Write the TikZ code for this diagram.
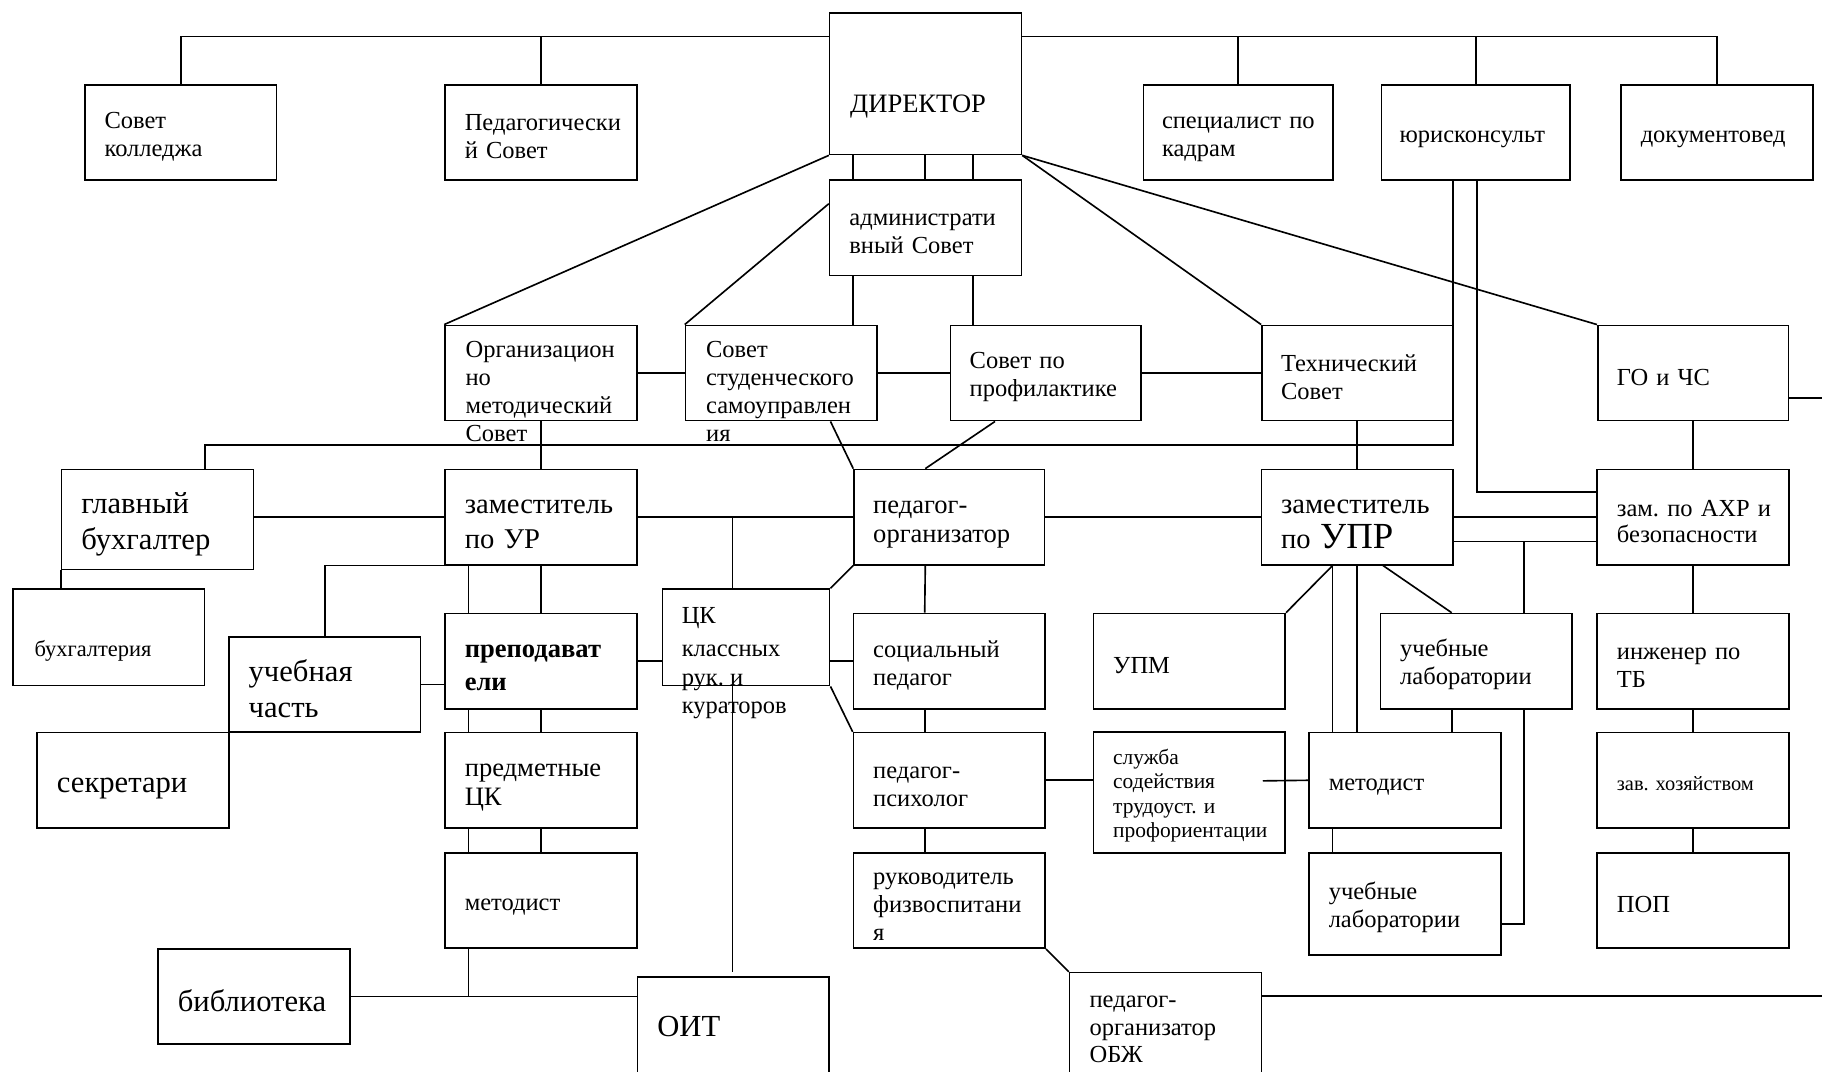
\documentclass[tikz,border=0pt]{standalone}
\usepackage{fontspec}
\setmainfont{Liberation Serif}
\usepackage{tikz}
\usetikzlibrary{calc}
\hyphenpenalty=10000
\exhyphenpenalty=10000
\frenchspacing
\newcommand{\fsA}{\fontsize{12}{13.7}\selectfont}
\newcommand{\fsC}{\fontsize{15}{17.6}\selectfont}
\newcommand{\fsDir}{\fontsize{13}{15}\selectfont}
\newcommand{\fsE}{\fontsize{14}{17}\selectfont}
\newcommand{\fsF}{\fontsize{13}{14.2}\selectfont}
\newcommand{\fsP}{\fontsize{13}{16}\selectfont}
\newcommand{\fsG}{\fontsize{18}{17}\selectfont}
\newcommand{\fsH}{\fontsize{12}{12.6}\selectfont}
\newcommand{\fsI}{\fontsize{11}{13}\selectfont}
\newcommand{\fsJ}{\fontsize{12}{14}\selectfont}
\newcommand{\fsK}{\fontsize{10.5}{12}\selectfont}
\newcommand{\fsL}{\fontsize{10}{12}\selectfont}
\newcommand{\fsM}{\fontsize{12}{13.4}\selectfont}
\tikzset{
  unit/.style={draw, rectangle, inner sep=0pt, minimum width=33mm, minimum height=16.4mm,
    text width=26.2mm, align=left, font=\fsA, execute at begin node={\rule{0pt}{1em}}},
  inscr/.style={anchor=north west, inner sep=0pt, align=left, font=\fsA},
}
\begin{document}
\begin{tikzpicture}[x=0.2mm, y=-0.2mm, line width=0.8pt]
		\useasboundingbox (0,0) rectangle (1568,922);
		\clip (0,0) rectangle (1568,922);
		% top row
		\node[unit] (sovk) at (155.5,114) {Совет\\колледжа};
		\node[unit] (pedS) at (465.5,114) {Педагогически\\й Совет};
		\node[unit, minimum height=24.4mm] (dir) at (796.5,72) {};
		\node[inscr, anchor=base west, font=\fsDir] (dirT) at (731,97) {ДИРЕКТОР};
		\node[unit, minimum width=32.6mm] (kadr) at (1065.5,114) {специалист~по\\кадрам};
		\node[unit, minimum width=32.4mm] (jur) at (1270,114) {юрисконсульт};
		\node[unit] (doc) at (1477.5,114) {документовед};
		\node[unit] (adm) at (796.5,196) {администрати\\вный Совет};
		% councils
		\node[unit] (orgm) at (465.5,321) {};
		\node[inscr] (orgmT) at (400,290) {\strut Организацион\\но\\методический\\Совет};
		\node[unit] (stud) at (672.5,321) {};
		\node[inscr] (studT) at (607,290) {\strut Совет\\студенческого\\самоуправлен\\ия};
		\node[unit, minimum width=32.8mm] (prof) at (900,321) {Совет~по\\профилактике};
		\node[unit, minimum width=32.8mm] (tech) at (1168,321) {Технический\\Совет};
		\node[unit, minimum width=32.8mm] (gochs) at (1457,321) {ГО~и~ЧС};
		% deputies
		\node[unit, minimum height=17.2mm, font=\fsC] (glbuh) at (135.5,447) {главный\\бухгалтер};
		\node[unit, font=\fsE] (zur) at (465.5,445) {заместитель\\по~УР};
		\node[unit, minimum width=32.8mm, font=\fsF] (porg) at (817,445) {педагог-\\организатор};
		\node[unit, font=\fsE] (zupr) at (1168,445) {заместитель\\по~{\fsG УПР}};
		\node[unit, font=\fsH] (zahr) at (1457,445) {зам.~по~АХР~и\\безопасности};
		% lower levels
		\node[unit, minimum height=16.6mm] (buh) at (93.5,548.5) {};
		\node[inscr, anchor=base west, font=\fsI] (buhT) at (29,565) {бухгалтерия};
		\node[unit, font=\fsC] (uch) at (279.5,589) {учебная\\часть};
		\node[unit, font=\fsP\bfseries] (prep) at (465.5,569) {преподават\\ели};
		\node[unit, minimum width=28.8mm, minimum height=16.6mm] (ck) at (642,548.5) {};
		\node[inscr, font=\fsJ] (ckT) at (586,519) {\strut ЦК\\[2pt]классных\\рук.~и\\кураторов};
		\node[unit] (socp) at (817,569) {социальный\\педагог};
		\node[unit] (upm) at (1023.5,569) {УПМ};
		\node[unit] (labA) at (1270.5,569) {учебные\\лаборатории};
		\node[unit] (ingtb) at (1457,569) {инженер~по\\ТБ};
		\node[unit, font=\fsC] (sekr) at (114.5,671.5) {секретари};
		\node[unit, font=\fsF] (pck) at (465.5,671.5) {предметные\\ЦК};
		\node[unit] (psy) at (817,671.5) {педагог-\\психолог};
		\node[unit, minimum height=20.8mm, font=\fsK] (slug) at (1023.5,682) {служба\\содействия\\трудоуст.~и\\профориентации};
		\node[unit] (metR) at (1209,671.5) {методист};
		\node[unit, font=\fsL] (zavh) at (1457,671.5) {зав.~хозяйством};
		\node[unit] (metL) at (465.5,775) {методист};
		\node[unit] (fiz) at (817,775) {руководитель\\физвоспитани\\я};
		\node[unit, minimum height=17.6mm] (labB) at (1209,778) {учебные\\лаборатории};
		\node[unit] (pop) at (1457,775) {ПОП};
		\node[unit, font=\fsC] (bib) at (218.5,857.5) {библиотека};
		\node[unit, minimum height=22mm] (oit) at (631,896) {};
		\node[inscr, anchor=base west, font=\fsC] (oitT) at (565,892) {ОИТ};
		\node[unit, minimum height=22mm] (obzh) at (1003,892) {};
		\node[inscr, font=\fsM] (obzhT) at (937,850) {\strut педагог-\\организатор\\ОБЖ};
		% top bus
		\coordinate (busL) at ($(dir.north west)+(0,21)$);
		\coordinate (busR) at ($(dir.north east)+(0,21)$);
		\draw (sovk.north) |- (busL);
		\draw (pedS.north) -- (pedS.north |- busL);
		\draw (busR) -| (doc.north);
		\foreach \n in {kadr,jur} \draw (\n.north) -- (\n.north |- busR);
		% director and councils
		\foreach \dx in {21,83,124} \draw ($(dir.south west)+(\dx,0)$) -- ($(adm.north west)+(\dx,0)$);
		\draw (dir.south west) -- (orgm.north west);
		\draw ($(adm.north west)+(0,21)$) -- (stud.north west);
		\draw (dir.south east) -- (tech.north west);
		\draw (dir.south east) -- (gochs.north west);
		\draw ($(adm.south west)+(21,0)$) -- ($(stud.north west)+(145,0)$);
		\draw ($(adm.south west)+(124,0)$) -- ($(prof.north west)+(20,0)$);
		\draw (orgm) -- (stud);
		\draw (stud) -- (prof);
		\draw (prof) -- (tech);
		% jurist lines
		\coordinate (jurA) at ($(jur.south west)+(62,0)$);
		\coordinate (jurB) at ($(jur.south west)+(83,0)$);
		\draw (jurA) -- ++(0,227) -| ($(glbuh.north west)+(124,0)$);
		\draw (jurB) |- ($(zahr.north west)+(0,20)$);
		\draw (tech) -- (zupr);
		\draw (gochs) -- (zahr);
		\draw ($(gochs.south east)+(0,-20)$) -- ++(29,0);
		\draw (orgm) -- (zur);
		\draw ($(stud.south east)+(-41,0)$) -- (porg.north west);
		\draw ($(prof.south west)+(39,0)$) -- ($(porg.north west)+(62,0)$);
		% deputies row
		\draw (glbuh.east |- zur.west) -- (zur.west);
		\draw (zur) -- (porg);
		\draw (porg) -- (zupr);
		\draw (zupr) -- (zahr);
		\draw ($(zupr.east)+(0,21)$) -- ($(zahr.west)+(0,21)$);
		\coordinate (ckTop) at ($(ck.north west)+(61,0)$);
		\draw (ckTop) -- (ckTop |- zur.east);
		% practice branch
		\coordinate (labX) at ($(labA.north west)+(124,0)$);
		\draw (labX) -- ++(0,-62);
		\draw (labX |- labA.south) |- ($(labB.east)+(0,17)$);
		\coordinate (uA) at ($(zupr.south west)+(62,0)$);
		\draw (uA) -- (upm.north east);
		\draw (uA) -- (uA |- metR.north);
		\draw (zupr.south) -- (zupr.south |- metR.north);
		\draw ($(zupr.south east)+(-61,0)$) -- ($(labA.north west)+(62,0)$);
		\draw ($(labA.south west)+(62,0)$) coordinate (lB) -- (lB |- metR.north);
		\draw ($(metR.south west)+(21,0)$) coordinate (mB) -- (mB |- labB.north);
		\draw ($(slug.east)+(-20,-10)$) -- (metR.west);
		\foreach \a/\b in {zahr/ingtb, ingtb/zavh, zavh/pop} \draw (\a) -- (\b);
		% teaching branch
		\draw (glbuh.south west) -- (glbuh.south west |- buh.north);
		\draw (zur.south west) -| (uch.north);
		\foreach \a/\b in {zur/prep, prep/pck, pck/metL} {
			\draw ($(\a.south west)+(21,0)$) -- ($(\b.north west)+(21,0)$);
			\draw (\a) -- (\b);
		}
		\draw ($(metL.south west)+(21,0)$) coordinate (mL) -- (mL |- bib.east);
		\draw (bib.east) -- (bib.east -| oit.west);
		\draw (uch.east) -- (uch.east -| prep.west);
		\draw (prep.east) -- (prep.east -| ck.west);
		\draw (socp.west -| ck.east) -- (socp.west);
		\draw (ck.north east) -- (porg.south west);
		\draw (ck.south east) -- (psy.north west);
		\draw ($(ck.south west)+(61,0)$) coordinate (ckB) -- ($(ckB |- oit.north)+(0,-4)$);
		\foreach \a/\b in {porg/socp, socp/psy, psy/fiz} \draw ($(\a.south west)+(62,0)$) -- ($(\b.north west)+(62,0)$);
		\draw (psy.east) -- (psy.east -| slug.west);
		\draw (fiz.south east) -- (obzh.north west);
		\draw ($(obzh.north east)+(0,21)$) -- ++(482,0);
	\end{tikzpicture}
\end{document}
